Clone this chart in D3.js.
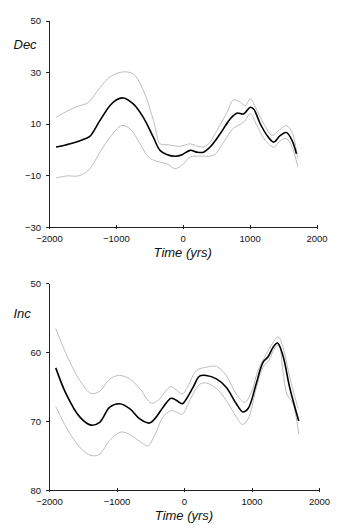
<!DOCTYPE html>
<html>
<head>
<meta charset="utf-8">
<script src="https://cdn.jsdelivr.net/npm/d3@7"></script>
<style>
  html, body { margin: 0; padding: 0; background: #fff; }
  svg { display: block; }
  .tick text { font-family: "Liberation Sans", Arial, sans-serif; font-size: 9.5px; fill: #111; }
  .axis path, .axis line { stroke: #222; stroke-width: 1; shape-rendering: crispEdges; }
  .title { font-family: "Liberation Sans", Arial, sans-serif; font-style: italic; font-size: 13px; fill: #111; }
</style>
</head>
<body>
<script>
// Declination record: years and values (mean and bounds)
const decMeanYears = [-1895,-1750,-1590,-1460,-1390,-1240,-1090,-990,-890,-740,-590,-440,-340,-240,-110,-10,110,210,310,410,560,710,810,910,1010,1060,1160,1260,1360,1460,1550,1635,1700];
const decMean      = [1.0,1.8,2.9,4.2,5.1,11.2,17,19.3,20,17.7,12.5,4.8,-0.3,-1.9,-2.6,-2,-0.3,-1,-1,1,6.1,11.9,14.1,13.8,16.4,15.7,9.9,5.5,2.9,5.5,6.6,3.5,-1.6];
const decUpperYears = [-1895,-1735,-1586,-1411,-1236,-1086,-887,-737,-587,-437,-337,-238,-38,112,262,362,511,661,761,861,935,1010,1110,1210,1335,1435,1550,1635,1720];
const decUpper      = [12.5,14.8,16.6,18.3,24.1,28.2,30.1,29.2,22.8,11.2,2.2,1.9,1.3,2.2,1,1.6,7.4,14.4,19.3,18.3,17,19.6,15.1,10,5.5,7.4,9.3,6.7,-3.5];
const decLowerYears = [-1895,-1735,-1561,-1411,-1236,-1086,-912,-787,-637,-512,-387,-238,-113,12,112,262,461,611,761,911,1010,1110,1235,1360,1460,1550,1635,1720];
const decLower      = [-11,-10.2,-10.2,-8,-1,4.8,9.3,8,2.2,-2.9,-4.6,-5.5,-7.4,-5.5,-2.9,-2.5,-2.2,2.9,8.3,10.6,13.8,9.3,3.5,1,3.5,4.2,1,-6.7];

// Inclination record
const incMeanYears = [-1900,-1745,-1545,-1375,-1250,-1100,-955,-805,-655,-510,-410,-310,-190,-115,-25,35,135,230,330,480,625,775,875,950,1070,1170,1245,1320,1385,1465,1565,1700];
const incMean      = [62.3,66.1,69.4,70.6,70.2,68,67.5,68.2,69.7,70.3,69.4,68,66.7,67,67.5,66.8,65.1,63.5,63.4,63.9,65.1,67.5,68.7,68.2,64.6,61.5,60.7,59.3,58.7,60.5,65.1,70];
const incUpperYears = [-1900,-1745,-1545,-1375,-1250,-1100,-955,-805,-655,-485,-360,-285,-190,-115,-25,60,185,330,480,625,775,900,1000,1095,1220,1295,1395,1465,1565,1690];
const incUpper      = [56.6,60.3,64.1,66,65.7,63.9,63.4,63.9,65.3,67.4,66.8,65.8,65,65.5,66.1,64.9,62.7,62.2,62.1,63.4,66.1,67.3,65.8,62.7,60.3,59,57.8,59.3,63.6,68.2];
const incLowerYears = [-1900,-1745,-1545,-1375,-1250,-1100,-930,-780,-605,-535,-435,-310,-190,-115,-25,85,230,330,480,625,775,865,950,1070,1170,1260,1345,1405,1465,1525,1615,1700];
const incLower      = [67.9,70.9,73.8,75,74.8,72.8,71.6,72.1,73.3,73.6,72.1,69.4,68.5,68.7,69,67,64.7,64.5,65.3,67,69.4,70.5,69.7,65.3,62.2,61.2,59.4,59,62.7,66.1,67.5,71.9];

// Axis ticks
const timeTicks = [-2000,-1000,0,1000,2000];
const decTicks = [50,30,10,-10,-30];
const incTicks = [50,60,70,80];

const W = 344, H = 531;
const svg = d3.select("body").append("svg").attr("width", W).attr("height", H);

function zip(xs, ys) { return xs.map((x, i) => [x, ys[i]]); }

function panel(opts) {
  const x = d3.scaleLinear().domain([-2000, 2000]).range([49, opts.xRight]);
  const y = d3.scaleLinear().domain(opts.yDomain).range(opts.yRange);
  const g = svg.append("g");

  const line = d3.line()
    .x(d => x(d[0])).y(d => y(d[1]))
    .curve(d3.curveCatmullRom.alpha(0.5));

  // confidence bounds
  [opts.upper, opts.lower].forEach(s => {
    g.append("path").datum(s).attr("d", line)
      .attr("fill", "none").attr("stroke", "#bdbdbd").attr("stroke-width", 1);
  });
  // mean curve
  g.append("path").datum(opts.mean).attr("d", line)
    .attr("fill", "none").attr("stroke", "#000").attr("stroke-width", 1.6);

  // y axis
  const yAxis = g.append("g").attr("class", "axis")
    .attr("transform", "translate(49,0)")
    .call(d3.axisLeft(y).tickValues(opts.yTicks).tickSizeInner(3).tickSizeOuter(0).tickPadding(5).tickFormat(d3.format("d")));

  // x axis
  const xAxis = g.append("g").attr("class", "axis")
    .attr("transform", `translate(0,${opts.yRange[0]})`)
    .call(d3.axisBottom(x).tickValues(timeTicks).tickSizeInner(2).tickSizeOuter(0).tickPadding(6).tickFormat(d3.format("d")));
  xAxis.selectAll(".tick line").attr("y1", -2);

  // labels
  g.append("text").attr("class", "title")
    .attr("x", 13.5).attr("y", opts.labelY).text(opts.label);
  g.append("text").attr("class", "title")
    .attr("x", x(0)).attr("y", opts.titleY).attr("text-anchor", "middle")
    .text("Time (yrs)");
}

panel({
  xRight: 316.5, yDomain: [-30, 50], yRange: [227, 20.5], yTicks: decTicks,
  mean: zip(decMeanYears, decMean), upper: zip(decUpperYears, decUpper), lower: zip(decLowerYears, decLower),
  label: "Dec", labelY: 49, titleY: 257
});

panel({
  xRight: 319, yDomain: [80, 50], yRange: [490, 283], yTicks: incTicks,
  mean: zip(incMeanYears, incMean), upper: zip(incUpperYears, incUpper), lower: zip(incLowerYears, incLower),
  label: "Inc", labelY: 318, titleY: 519.5
});
</script>
</body>
</html>
